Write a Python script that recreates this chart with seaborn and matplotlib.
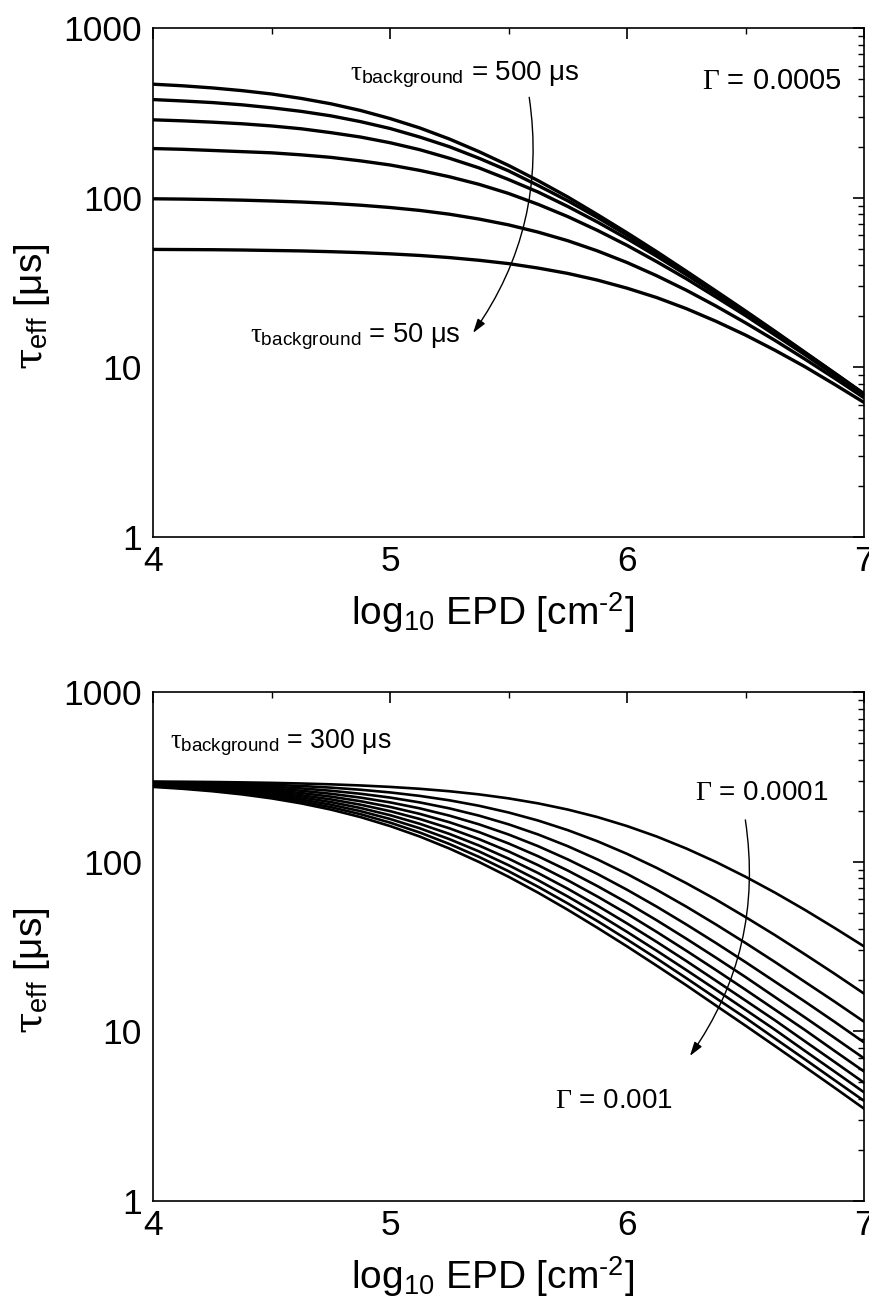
import numpy as np
import pandas as pd
import matplotlib
matplotlib.use("Agg")
import matplotlib.pyplot as plt
import seaborn as sns
from matplotlib.ticker import MultipleLocator, LogLocator, NullFormatter, FuncFormatter

# ---------------- data ----------------
log_epd = [4.000, 4.125, 4.250, 4.375, 4.500, 4.625, 4.750, 4.875,
           5.000, 5.125, 5.250, 5.375, 5.500, 5.625, 5.750, 5.875,
           6.000, 6.125, 6.250, 6.375, 6.500, 6.625, 6.750, 6.875, 7.000]

# top panel: Gamma = 0.0005, tau_background = 500 ... 50 us
top_labels = ["500", "400", "300", "200", "100", "50"]
top_500 = [467, 457, 444, 428, 409, 385, 358, 327, 293, 258, 222, 187, 155,
           126, 101, 79.5, 62.1, 48.1, 36.9, 28.2, 21.5, 16.3, 12.3, 9.28, 6.99]
top_400 = [379, 372, 364, 353, 339, 323, 304, 281, 256, 228, 200, 171, 144,
           118, 95.9, 76.5, 60.2, 46.9, 36.3, 27.8, 21.2, 16.1, 12.2, 9.24, 6.97]
top_300 = [288, 284, 279, 273, 265, 255, 242, 228, 211, 192, 171, 150, 128,
           108, 88.8, 71.9, 57.4, 45.2, 35.2, 27.2, 20.9, 15.9, 12.1, 9.17, 6.93]
top_200 = [195, 193, 190, 187, 184, 179, 173, 165, 156, 145, 133, 120, 106,
           91.4, 77.4, 64.2, 52.4, 42.0, 33.3, 26.0, 20.2, 15.5, 11.9, 9.03, 6.85]
top_100 = [98.6, 98.2, 97.6, 96.8, 95.7, 94.4, 92.7, 90.4, 87.6, 84.2, 80.0, 74.9, 69.2,
           62.7, 55.8, 48.6, 41.5, 34.7, 28.5, 23.0, 18.3, 14.4, 11.2, 8.64, 6.62]
top_50 = [49.6, 49.5, 49.4, 49.2, 48.9, 48.6, 48.1, 47.5, 46.7, 45.7, 44.4, 42.8, 40.9,
          38.5, 35.8, 32.7, 29.3, 25.8, 22.2, 18.7, 15.5, 12.6, 10.1, 7.95, 6.21]

# bottom panel: tau_background = 300 us, Gamma = 0.0001 ... 0.001
bottom_labels = ["0.0001", "0.0002", "0.0003", "0.0004", "0.0005",
                 "0.0006", "0.0007", "0.0008", "0.0009", "0.001"]
bot_g01 = [297.5, 296.7, 295.6, 294.1, 292.2, 289.7, 286.4, 282.1, 276.6, 269.6, 260.8, 249.9, 236.7,
           221.1, 203.3, 183.6, 162.5, 141.0, 119.8, 99.8, 81.6, 65.7, 52.1, 40.8, 31.7]
bot_g02 = [295.0, 293.4, 291.2, 288.4, 284.8, 280.0, 273.9, 266.2, 256.6, 244.8, 230.6, 214.1, 195.4,
           175.1, 153.7, 132.2, 111.4, 92.1, 74.8, 59.9, 47.2, 36.9, 28.5, 21.9, 16.7]
bot_g03 = [292.6, 290.2, 287.0, 283.0, 277.7, 271.0, 262.5, 252.0, 239.3, 224.1, 206.7, 187.3, 166.4,
           144.9, 123.6, 103.3, 84.8, 68.4, 54.4, 42.7, 33.2, 25.6, 19.6, 15.0, 11.4]
bot_g04 = [290.2, 287.0, 283.0, 277.7, 271.0, 262.5, 252.0, 239.3, 224.1, 206.7, 187.3, 166.4, 144.9,
           123.6, 103.3, 84.8, 68.4, 54.4, 42.7, 33.2, 25.6, 19.6, 15.0, 11.4, 8.61]
bot_g05 = [287.8, 284.0, 279.0, 272.6, 264.6, 254.6, 242.4, 227.8, 210.8, 191.8, 171.2, 149.8, 128.3,
           107.8, 88.8, 71.9, 57.4, 45.2, 35.2, 27.2, 20.9, 15.9, 12.1, 9.17, 6.93]
bot_g06 = [285.5, 281.0, 275.2, 267.8, 258.5, 247.1, 233.4, 217.3, 199.0, 178.9, 157.7, 136.1, 115.2,
           95.5, 77.8, 62.4, 49.4, 38.6, 29.9, 23.0, 17.6, 13.4, 10.2, 7.68, 5.80]
bot_g07 = [283.2, 278.0, 271.4, 263.1, 252.7, 240.1, 225.1, 207.7, 188.4, 167.6, 146.1, 124.8, 104.4,
           85.8, 69.3, 55.1, 43.3, 33.7, 26.0, 19.9, 15.2, 11.6, 8.75, 6.61, 4.98]
bot_g08 = [281.0, 275.2, 267.8, 258.5, 247.1, 233.4, 217.3, 199.0, 178.9, 157.7, 136.1, 115.2, 95.5,
           77.8, 62.4, 49.4, 38.6, 29.9, 23.0, 17.6, 13.4, 10.2, 7.68, 5.80, 4.37]
bot_g09 = [278.8, 272.4, 264.2, 254.1, 241.8, 227.1, 210.1, 191.0, 170.3, 148.9, 127.4, 106.9, 88.0,
           71.2, 56.8, 44.7, 34.8, 26.9, 20.6, 15.7, 12.0, 9.06, 6.85, 5.16, 3.89]
bot_g10 = [276.6, 269.6, 260.8, 249.9, 236.7, 221.1, 203.3, 183.6, 162.5, 141.0, 119.8, 99.8, 81.6,
           65.7, 52.1, 40.8, 31.7, 24.4, 18.7, 14.2, 10.8, 8.18, 6.18, 4.66, 3.50]

y_ticks = [1, 10, 100, 1000]
x_ticks = [4, 5, 6, 7]

# ---------------- tables ----------------
def long_table(labels, series):
    rows = []
    for lab, ys in zip(labels, series):
        for x, y in zip(log_epd, ys):
            rows.append({"curve": lab, "x": x, "tau": y})
    return pd.DataFrame(rows)

df_top = long_table(top_labels, [top_500, top_400, top_300, top_200, top_100, top_50])
df_bot = long_table(bottom_labels, [bot_g01, bot_g02, bot_g03, bot_g04, bot_g05,
                                    bot_g06, bot_g07, bot_g08, bot_g09, bot_g10])

# ---------------- style ----------------
sns.set_theme(style="white")
plt.rcParams["font.family"] = ["Liberation Sans", "DejaVu Sans"]
plt.rcParams["mathtext.fontset"] = "custom"
plt.rcParams["mathtext.rm"] = "Liberation Sans"
plt.rcParams["mathtext.it"] = "Liberation Serif"
plt.rcParams["mathtext.cal"] = "Liberation Serif"
plt.rcParams["mathtext.sf"] = "DejaVu Serif"
plt.rcParams["axes.unicode_minus"] = False
for key in ["text.color", "axes.labelcolor", "xtick.color", "ytick.color", "axes.edgecolor"]:
    plt.rcParams[key] = "black"

fig = plt.figure(figsize=(8.7, 13.01), dpi=100)
ax_top = fig.add_axes([0.176, 0.5872, 0.8172, 0.3912])
ax_bot = fig.add_axes([0.176, 0.0769, 0.8172, 0.3910])

sns.lineplot(data=df_top, x="x", y="tau", units="curve", estimator=None,
             color="black", lw=2.4, ax=ax_top)
sns.lineplot(data=df_bot, x="x", y="tau", units="curve", estimator=None,
             color="black", lw=1.9, ax=ax_bot)

for ax in (ax_top, ax_bot):
    ax.set_yscale("log")
    ax.set_xlim(4, 7)
    ax.set_ylim(1, 1000)
    ax.set_xticks(x_ticks)
    ax.xaxis.set_minor_locator(MultipleLocator(0.5))
    ax.set_yticks(y_ticks)
    ax.yaxis.set_minor_locator(LogLocator(base=10, subs=np.arange(2, 10)))
    ax.yaxis.set_minor_formatter(NullFormatter())
    ax.yaxis.set_major_formatter(FuncFormatter(lambda v, p: f"{v:g}"))
    ax.xaxis.set_major_formatter(FuncFormatter(lambda v, p: f"{v:g}"))
    ax.tick_params(which="both", direction="in", top=True, right=True, colors="black")
    ax.tick_params(which="major", length=8, width=1.2, labelsize=25.5)
    ax.tick_params(axis="y", which="major", pad=8)
    ax.tick_params(axis="x", which="major", pad=6)
    ax.tick_params(which="minor", length=4.5, width=1.0)
    for s in ax.spines.values():
        s.set_linewidth(1.2)
        s.set_color("black")
        s.set_visible(True)
    ax.set_xlabel(r"log$_{10}$ EPD [cm$^{\text{-2}}$]", fontsize=28)
    ax.set_ylabel(r"$\mathsf{\tau}_{\mathrm{eff}}$ [μs]", fontsize=28)
    ax.xaxis.set_label_coords(0.478, -0.105)
    ax.yaxis.set_label_coords(-0.142, 0.452)
    ax.grid(False)

arrow_kw = dict(arrowstyle="-|>,head_length=0.7,head_width=0.22", color="black",
                lw=1.0, shrinkA=0, shrinkB=0, connectionstyle="arc3,rad=-0.2")

# top annotations
ax_top.text(0.277, 0.898, r"$\tau_{\mathrm{background}}$ = 500 μs", transform=ax_top.transAxes,
            fontsize=20, va="baseline", ha="left")
ax_top.text(0.772, 0.880, r"$\mathcal{\Gamma}$ = 0.0005", transform=ax_top.transAxes,
            fontsize=21, va="baseline", ha="left")
ax_top.text(0.136, 0.384, r"$\tau_{\mathrm{background}}$ = 50 μs", transform=ax_top.transAxes,
            fontsize=19.6, va="baseline", ha="left")
ax_top.annotate("", xy=(0.450, 0.401), xycoords="axes fraction",
                xytext=(0.529, 0.864), textcoords="axes fraction", arrowprops=arrow_kw)

# bottom annotations
ax_bot.text(0.024, 0.8905, r"$\tau_{\mathrm{background}}$ = 300 μs", transform=ax_bot.transAxes,
            fontsize=19.3, va="baseline", ha="left")
ax_bot.text(0.762, 0.788, r"$\mathcal{\Gamma}$ = 0.0001", transform=ax_bot.transAxes,
            fontsize=20, va="baseline", ha="left")
ax_bot.text(0.565, 0.183, r"$\mathcal{\Gamma}$ = 0.001", transform=ax_bot.transAxes,
            fontsize=20, va="baseline", ha="left")
ax_bot.annotate("", xy=(0.755, 0.285), xycoords="axes fraction",
                xytext=(0.833, 0.749), textcoords="axes fraction", arrowprops=arrow_kw)

fig.savefig("out.png", dpi=100)
